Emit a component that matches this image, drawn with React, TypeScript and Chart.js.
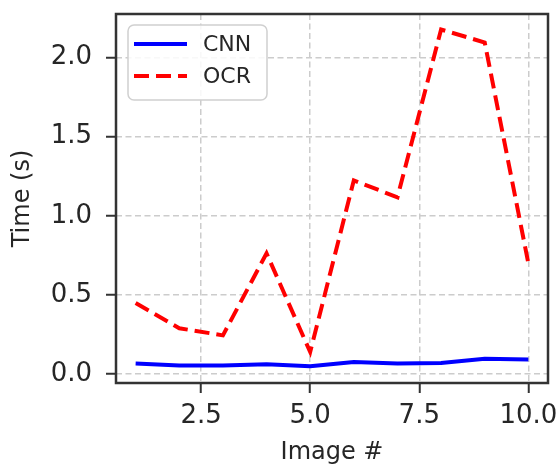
import React, { useEffect, useRef } from "react";
import { Chart, registerables } from "chart.js";

Chart.register(...registerables);

const imageNumbers = [1, 2, 3, 4, 5, 6, 7, 8, 9, 10];
const cnnTimes = [0.067, 0.055, 0.055, 0.063, 0.05, 0.076, 0.067, 0.071, 0.097, 0.093];
const ocrTimes = [0.45, 0.29, 0.245, 0.763, 0.14, 1.224, 1.117, 2.177, 2.095, 0.7];
const seriesLabels = ["CNN", "OCR"];
const xTicks = [2.5, 5.0, 7.5, 10.0];
const yTicks = [0.0, 0.5, 1.0, 1.5, 2.0];
const xTitle = "Image #";
const yTitle = "Time (s)";

const FONT = "'DejaVu Sans', sans-serif";
const TEXT = "#262626";

const framePlugin = {
  id: "frameLegend",
  afterDatasetsDraw(chart: any) {
    const { ctx, chartArea } = chart;
    ctx.save();
    // legend
    const bx = 128, by = 25, bw = 139, bh = 75, r = 6;
    ctx.beginPath();
    ctx.moveTo(bx + r, by);
    ctx.arcTo(bx + bw, by, bx + bw, by + bh, r);
    ctx.arcTo(bx + bw, by + bh, bx, by + bh, r);
    ctx.arcTo(bx, by + bh, bx, by, r);
    ctx.arcTo(bx, by, bx + bw, by, r);
    ctx.closePath();
    ctx.fillStyle = "rgba(255,255,255,0.85)";
    ctx.fill();
    ctx.strokeStyle = "#d0d0d0";
    ctx.lineWidth = 1.5;
    ctx.stroke();
    const rows = [44, 76];
    chart.data.datasets.forEach((ds: any, i: number) => {
      const y = rows[i];
      ctx.beginPath();
      ctx.setLineDash(ds.borderDash || []);
      ctx.strokeStyle = ds.borderColor;
      ctx.lineWidth = ds.borderWidth;
      ctx.moveTo(134, y);
      ctx.lineTo(187, y);
      ctx.stroke();
      ctx.setLineDash([]);
      ctx.fillStyle = TEXT;
      ctx.font = `22px ${FONT}`;
      ctx.textBaseline = "middle";
      ctx.textAlign = "left";
      ctx.fillText(ds.label, 203, y + 1);
    });
    // frame
    ctx.strokeStyle = "#333333";
    ctx.lineWidth = 2.5;
    ctx.setLineDash([]);
    ctx.strokeRect(chartArea.left, chartArea.top, chartArea.right - chartArea.left, chartArea.bottom - chartArea.top);
    ctx.restore();
  },
};

const gridOpts = {
  color: "#cccccc",
  lineWidth: 1.5,
  tickColor: "#333333",
  tickWidth: 2,
  tickLength: 10,
  tickBorderDash: [],
};

export default function App() {
  const ref = useRef<HTMLCanvasElement>(null);
  useEffect(() => {
    if (!ref.current) return;
    const chart = new Chart(ref.current, {
      type: "line",
      data: {
        datasets: [
          {
            label: seriesLabels[0],
            data: imageNumbers.map((x, i) => ({ x, y: cnnTimes[i] })),
            borderColor: "#0000ff",
            borderWidth: 4,
            pointRadius: 0,
            tension: 0,
          },
          {
            label: seriesLabels[1],
            data: imageNumbers.map((x, i) => ({ x, y: ocrTimes[i] })),
            borderColor: "#ff0000",
            borderWidth: 4,
            borderDash: [15, 7],
            pointRadius: 0,
            tension: 0,
          },
        ],
      },
      options: {
        animation: false,
        responsive: false,
        layout: { padding: { top: 14, right: 11, left: 0, bottom: 0 } },
        plugins: { legend: { display: false }, tooltip: { enabled: false } },
        scales: {
          x: {
            type: "linear",
            min: 0.55,
            max: 10.45,
            afterBuildTicks: (s: any) => { s.ticks = xTicks.map((v) => ({ value: v })); },
            afterFit: (s: any) => { s.height = 82; s.paddingLeft = 0; s.paddingRight = 0; },
            ticks: {
              autoSkip: false,
              maxRotation: 0,
              padding: 8,
              color: TEXT,
              font: { family: FONT, size: 26 },
              callback: (v: any) => Number(v).toFixed(1),
            },
            grid: gridOpts,
            border: { display: false, dash: [6, 3.5] },
            title: {
              display: true,
              text: xTitle,
              color: TEXT,
              font: { family: FONT, size: 24 },
              padding: { top: 0, bottom: -2 },
            },
          },
          y: {
            type: "linear",
            min: -0.056,
            max: 2.275,
            afterBuildTicks: (s: any) => { s.ticks = yTicks.map((v) => ({ value: v })); },
            afterFit: (s: any) => { s.width = 116; s.paddingTop = 0; s.paddingBottom = 0; },
            ticks: {
              padding: 14,
              color: TEXT,
              font: { family: FONT, size: 26 },
              callback: (v: any) => Number(v).toFixed(1),
            },
            grid: gridOpts,
            border: { display: false, dash: [6, 3.5] },
            title: {
              display: true,
              text: yTitle,
              color: TEXT,
              font: { family: FONT, size: 24 },
              padding: { top: 8, bottom: 0 },
            },
          },
        },
      },
      plugins: [framePlugin],
    });
    return () => chart.destroy();
  }, []);
  return (
    <div style={{ position: "absolute", left: 0, top: 0, width: 559, height: 465, background: "#fff" }}>
      <canvas ref={ref} width={559} height={465} />
    </div>
  );
}
